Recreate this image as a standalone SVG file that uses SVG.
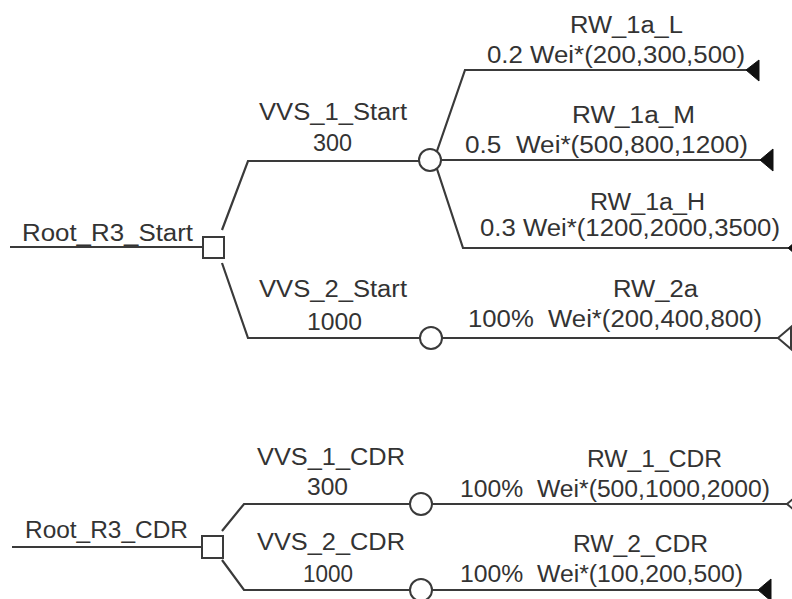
<svg xmlns="http://www.w3.org/2000/svg" width="792" height="599" viewBox="0 0 792 599">
<style>
.e{fill:none;stroke:#3a3a3a;stroke-width:2.2}
.n{fill:#fff;stroke:#3a3a3a;stroke-width:2}
.tf{fill:#111;stroke:#111;stroke-width:1}
.to{fill:#fff;stroke:#3a3a3a;stroke-width:2}
text{font-family:"Liberation Sans",Arial,sans-serif;font-size:23px;fill:#333;white-space:pre}
</style>
<rect width="792" height="599" fill="#fff"/>
<g id="connectors">
<polyline class="e" points="10,247 203,247"/>
<polyline class="e" points="222,230 248,161 419,161"/>
<polyline class="e" points="222,263 248,338 420,338"/>
<polyline class="e" points="437,151 465,70 748,70"/>
<polyline class="e" points="441,160 762,160"/>
<polyline class="e" points="437,169 463,248 790,248"/>
<polyline class="e" points="442,338 779,338"/>
<polyline class="e" points="12,547 202,547"/>
<polyline class="e" points="222,531 244,504 410,504"/>
<polyline class="e" points="222,560 244,590 410,590"/>
<polyline class="e" points="432,504 788,504"/>
<polyline class="e" points="432,590 760,590"/>
</g>
<g id="root_start"><rect class="n" x="203" y="237" width="21" height="21"/><text x="22" y="241" textLength="171" lengthAdjust="spacingAndGlyphs">Root_R3_Start</text></g>
<g id="vvs_1_start"><circle class="n" cx="430" cy="160" r="11"/><text x="259" y="120" textLength="148" lengthAdjust="spacingAndGlyphs">VVS_1_Start</text><text x="313" y="151" textLength="39" lengthAdjust="spacingAndGlyphs">300</text></g>
<g id="rw_1a_l"><polygon class="tf" points="746,70 759,60 759,81"/><text x="570" y="33" textLength="113" lengthAdjust="spacingAndGlyphs">RW_1a_L</text><text x="487" y="63" textLength="258" lengthAdjust="spacingAndGlyphs">0.2 Wei*(200,300,500)</text></g>
<g id="rw_1a_m"><polygon class="tf" points="760,160 773,149 773,171"/><text x="572" y="123" textLength="123" lengthAdjust="spacingAndGlyphs">RW_1a_M</text><text x="465" y="153" textLength="283" lengthAdjust="spacingAndGlyphs">0.5  Wei*(500,800,1200)</text></g>
<g id="rw_1a_h"><polygon class="tf" points="788,248 801,237 801,259"/><text x="590" y="210" textLength="115" lengthAdjust="spacingAndGlyphs">RW_1a_H</text><text x="480" y="236" textLength="300" lengthAdjust="spacingAndGlyphs">0.3 Wei*(1200,2000,3500)</text></g>
<g id="vvs_2_start"><circle class="n" cx="431" cy="338" r="11"/><text x="259" y="297" textLength="148" lengthAdjust="spacingAndGlyphs">VVS_2_Start</text><text x="307" y="330" textLength="55" lengthAdjust="spacingAndGlyphs">1000</text></g>
<g id="rw_2a"><polygon class="to" points="778,338 791,327 791,349"/><text x="613" y="297" textLength="85" lengthAdjust="spacingAndGlyphs">RW_2a</text><text x="468" y="327" textLength="294" lengthAdjust="spacingAndGlyphs">100%  Wei*(200,400,800)</text></g>
<g id="root_cdr"><rect class="n" x="202" y="536" width="21" height="22"/><text x="25" y="538" textLength="163" lengthAdjust="spacingAndGlyphs">Root_R3_CDR</text></g>
<g id="vvs_1_cdr"><circle class="n" cx="421" cy="504" r="11"/><text x="257" y="465" textLength="148" lengthAdjust="spacingAndGlyphs">VVS_1_CDR</text><text x="307" y="495" textLength="41" lengthAdjust="spacingAndGlyphs">300</text></g>
<g id="rw_1_cdr"><polygon class="to" points="787,504 800,493 800,515"/><text x="587" y="467" textLength="135" lengthAdjust="spacingAndGlyphs">RW_1_CDR</text><text x="460" y="497" textLength="310" lengthAdjust="spacingAndGlyphs">100%  Wei*(500,1000,2000)</text></g>
<g id="vvs_2_cdr"><circle class="n" cx="421" cy="590" r="11"/><text x="257" y="550" textLength="148" lengthAdjust="spacingAndGlyphs">VVS_2_CDR</text><text x="303" y="582" textLength="50" lengthAdjust="spacingAndGlyphs">1000</text></g>
<g id="rw_2_cdr"><polygon class="tf" points="758,590 771,579 771,601"/><text x="573" y="552" textLength="135" lengthAdjust="spacingAndGlyphs">RW_2_CDR</text><text x="460" y="582" textLength="283" lengthAdjust="spacingAndGlyphs">100%  Wei*(100,200,500)</text></g>
</svg>
